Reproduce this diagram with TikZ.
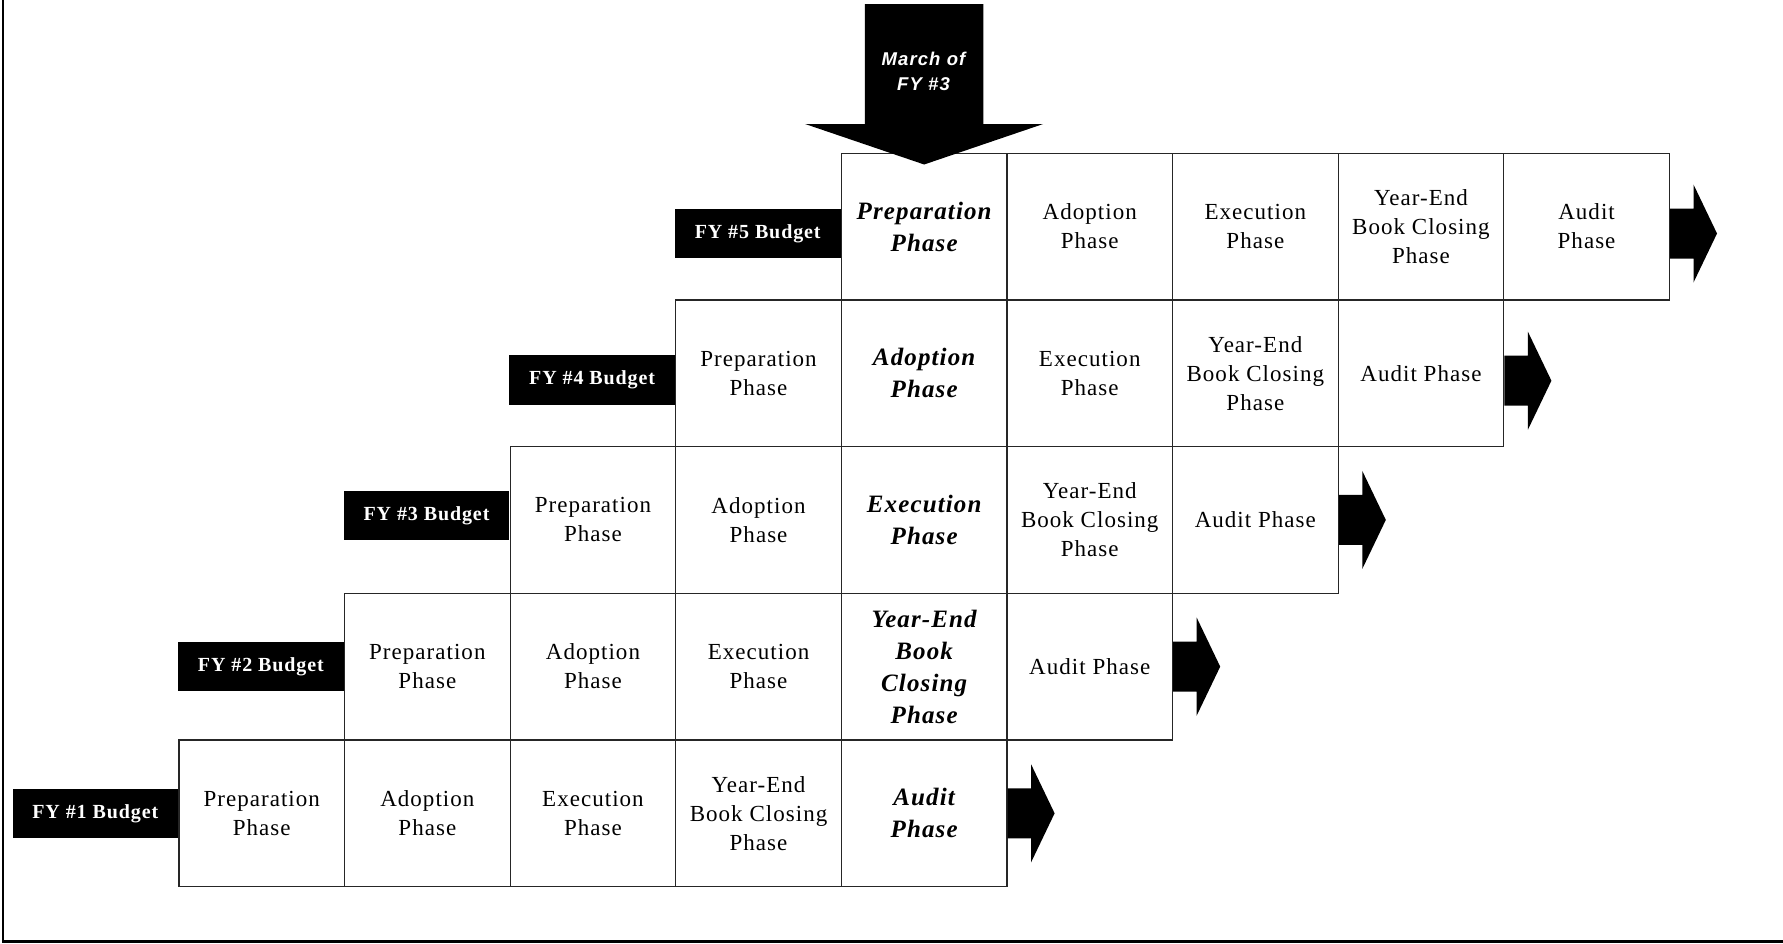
\documentclass[tikz,border=0pt]{standalone}
\usepackage{fontspec}
\setmainfont{Liberation Serif}
\newfontfamily\phasefont[LetterSpace=4.5]{Liberation Serif}
\newfontfamily\marchfont[LetterSpace=6]{Liberation Sans}

\tikzset{
  phase/.style={draw=black!85, line width=1.3pt, minimum width=165.6pt,
    minimum height=146.7pt, anchor=north west, align=center, inner sep=0pt,
    font=\phasefont\fontsize{23}{29}\selectfont},
  keyphase/.style={phase, font=\phasefont\bfseries\itshape\fontsize{25}{32}\selectfont},
  budget/.style={fill=black, text=white, minimum width=165.6pt,
    minimum height=49.5pt, anchor=east, inner sep=0pt,
    font=\phasefont\bfseries\fontsize{20}{24}\selectfont},
  nextyear/.style={fill=black},
}

\begin{document}
\begin{tikzpicture}[x=1pt,y=-1pt]
\useasboundingbox (0,0) rectangle (1783,943);

% outer frame: left and bottom rules only
\draw[line width=2.5pt] (3,0) -- (3,941.5) -- (1783,941.5);

% FY #1
\node[phase]    (c11) at (178.3,739.3)  {Preparation\\Phase};
\node[phase]    (c12) at (343.9,739.3)  {Adoption\\Phase};
\node[phase]    (c13) at (509.5,739.3)  {Execution\\Phase};
\node[phase]    (c14) at (675.1,739.3)  {Year-End\\Book Closing\\Phase};
\node[keyphase] (c15) at (840.7,739.3)  {Audit\\Phase};

% FY #2
\node[phase]    (c21) at (343.9,592.6)  {Preparation\\Phase};
\node[phase]    (c22) at (509.5,592.6)  {Adoption\\Phase};
\node[phase]    (c23) at (675.1,592.6)  {Execution\\Phase};
\node[keyphase] (c24) at (840.7,592.6)  {Year-End\\Book\\Closing\\Phase};
\node[phase]    (c25) at (1006.3,592.6) {Audit Phase};

% FY #3
\node[phase]    (c31) at (509.5,445.9)  {Preparation\\Phase};
\node[phase]    (c32) at (675.1,445.9)  {Adoption\\Phase};
\node[keyphase] (c33) at (840.7,445.9)  {Execution\\Phase};
\node[phase]    (c34) at (1006.3,445.9) {Year-End\\Book Closing\\Phase};
\node[phase]    (c35) at (1171.9,445.9) {Audit Phase};

% FY #4
\node[phase]    (c41) at (675.1,299.2)  {Preparation\\Phase};
\node[keyphase] (c42) at (840.7,299.2)  {Adoption\\Phase};
\node[phase]    (c43) at (1006.3,299.2) {Execution\\Phase};
\node[phase]    (c44) at (1171.9,299.2) {Year-End\\Book Closing\\Phase};
\node[phase]    (c45) at (1337.5,299.2) {Audit Phase};

% FY #5
\node[keyphase] (c51) at (840.7,152.5)  {Preparation\\Phase};
\node[phase]    (c52) at (1006.3,152.5) {Adoption\\Phase};
\node[phase]    (c53) at (1171.9,152.5) {Execution\\Phase};
\node[phase]    (c54) at (1337.5,152.5) {Year-End\\Book Closing\\Phase};
\node[phase]    (c55) at (1503.1,152.5) {Audit\\Phase};

% budget year labels
\node[budget]               (fy1) at (c11.west) {FY \#1 Budget};
\node[budget]               (fy2) at (c21.west) {FY \#2 Budget};
\node[budget, yshift=4.5pt] (fy3) at (c31.west) {FY \#3 Budget};
\node[budget, yshift=-7pt]  (fy4) at (c41.west) {FY \#4 Budget};
\node[budget, yshift=-7pt]  (fy5) at (c51.west) {FY \#5 Budget};

% block arrows continuing each year
\foreach \r/\dy in {c15/0,c25/0,c35/0,c45/-7.5,c55/-7}{
  \fill[nextyear, shift={(\r.east)}, yshift=\dy pt]
    (0,-25) -- (23.5,-25) -- (23.5,-49) -- (47,0) -- (23.5,49) -- (23.5,25) -- (0,25) -- cycle;
}

% current-month marker
\fill[nextyear, shift={(c51.north)}]
  (-59.3,-148.5) -- (59.3,-148.5) -- (59.3,-28.5) -- (119,-28.5) -- (0,12)
  -- (-119,-28.5) -- (-59.3,-28.5) -- cycle;
\node[text=white, align=center, inner sep=0pt,
  font=\marchfont\bfseries\itshape\fontsize{18.5}{25}\selectfont]
  (march) at (923.5,71) {March of\\FY \#3};
\end{tikzpicture}
\end{document}
